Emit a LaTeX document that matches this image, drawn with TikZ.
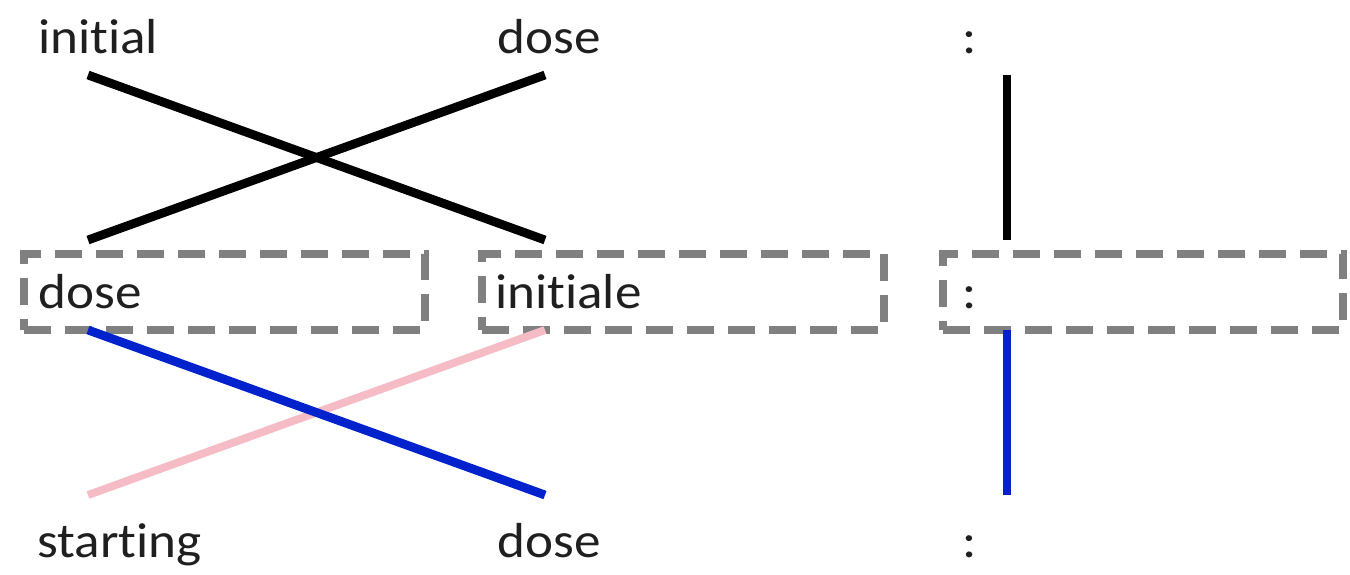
\documentclass[tikz,border=0pt]{standalone}
\usepackage{fontspec}
\setmainfont[Ligatures=NoCommon, FakeStretch=1.08]{Carlito}
\usetikzlibrary{positioning}

\definecolor{linkblue}{RGB}{0,34,204}
\definecolor{linkpink}{RGB}{246,188,198}
\definecolor{slotgray}{RGB}{128,128,128}

\tikzset{
    word/.style={anchor=base west, inner sep=0pt, text=black!88},
    slot/.style={draw=slotgray, line width=4.5pt, dash pattern=on 0.54cm off 0.28cm,
        minimum height=1.52cm, inner sep=0pt},
    link/.style={line width=5pt, line cap=butt}
}

\begin{document}
\begin{tikzpicture}[x=0.02cm, y=-0.02cm, font=\fontsize{28}{34}\selectfont]
    \useasboundingbox (0,0) rectangle (1350,575);

    % top row
    \node[word] (src1) at (38,53) {initial};
    \node[word] (src2) at (497,53) {dose};
    \node[word] (src3) at (962,53) {:};

    % middle row: dashed slots
    \node[slot, minimum width=8.02cm] (slot1) at (224.5,292) {};
    \node[slot, minimum width=8.04cm] (slot2) at (683,292) {};
    \node[slot, minimum width=8.00cm] (slot3) at (1143,292) {};
    \node[word] (mid1) at (38,308) {dose};
    \node[word] (mid2) at (495,308) {initiale};
    \node[word] (mid3) at (962,308) {:};

    % bottom row
    \node[word] (tgt1) at (37,557) {starting};
    \node[word] (tgt2) at (497,557) {dose};
    \node[word] (tgt3) at (962,557) {:};

    % line ends
    \coordinate (a1) at (88,75);   \coordinate (a2) at (545,75);   \coordinate (a3) at (1007,75);
    \coordinate (b1) at (88,240);  \coordinate (b2) at (545,240);  \coordinate (b3) at (1007,240);
    \coordinate (c1) at (88,330);  \coordinate (c2) at (545,330);  \coordinate (c3) at (1007,330);
    \coordinate (d1) at (88,495);  \coordinate (d2) at (545,495);  \coordinate (d3) at (1007,495);

    \draw[link] (a1) -- (b2);
    \draw[link] (a2) -- (b1);
    \draw[link] (a3) -- (b3);

    \draw[link, linkpink, line width=4.5pt] (c2) -- (d1);
    \draw[link, linkblue] (c1) -- (d2);
    \draw[link, linkblue] (c3) -- (d3);
\end{tikzpicture}
\end{document}
